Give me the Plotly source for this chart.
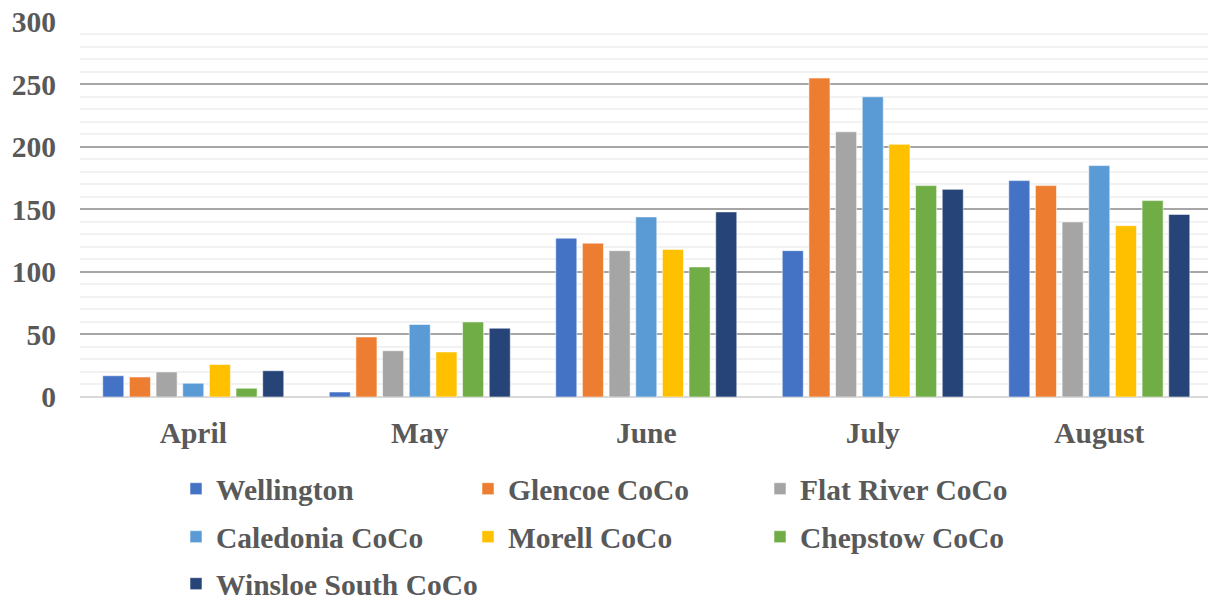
import plotly.graph_objects as go

months = ["April", "May", "June", "July", "August"]

wellington = [17, 4, 127, 117, 173]
glencoe = [16, 48, 123, 255, 169]
flat_river = [20, 37, 117, 212, 140]
caledonia = [11, 58, 144, 240, 185]
morell = [26, 36, 118, 202, 137]
chepstow = [7, 60, 104, 169, 157]
winsloe_south = [21, 55, 148, 166, 146]

series = [
    ("Wellington", wellington, "#4472C4"),
    ("Glencoe CoCo", glencoe, "#ED7D31"),
    ("Flat River CoCo", flat_river, "#A5A5A5"),
    ("Caledonia CoCo", caledonia, "#5B9BD5"),
    ("Morell CoCo", morell, "#FFC000"),
    ("Chepstow CoCo", chepstow, "#70AD47"),
    ("Winsloe South CoCo", winsloe_south, "#264478"),
]

FONT = "Liberation Serif"
TEXT = "#595959"
FS = 29.5

# three legend rows, three entries per row
legend_ids = ["legend", "legend", "legend", "legend2", "legend2", "legend2", "legend3"]

fig = go.Figure()
for (name, vals, color), lg in zip(series, legend_ids):
    fig.add_trace(go.Bar(
        x=months, y=vals, name=name, legend=lg,
        marker=dict(color=color, line=dict(color="rgba(255,255,255,0.55)", width=1)),
    ))


def legend_row(y, width=247):
    return dict(
        orientation="h", xref="container", yref="container",
        x=0.1457, xanchor="left", y=y, yanchor="top",
        entrywidth=width, entrywidthmode="pixels",
        font=dict(family=FONT, size=FS, color=TEXT, weight="bold"),
        itemwidth=30, traceorder="normal", bgcolor="rgba(0,0,0,0)",
    )


fig.update_layout(
    width=1208, height=600,
    margin=dict(l=80, r=0, t=21, b=203),
    paper_bgcolor="white", plot_bgcolor="white",
    barmode="group", bargap=0.176, bargroupgap=0.21,
    font=dict(family=FONT, size=FS, color=TEXT),
    showlegend=True,
    legend=legend_row(0.2283),
    legend2=legend_row(0.1483),
    legend3=legend_row(0.070, 400),
)

fig.update_xaxes(
    range=[-0.5, 4.48], showgrid=False, showline=False, zeroline=False,
    tickfont=dict(family=FONT, size=FS, color=TEXT, weight="bold"),
    ticks="", ticklabelstandoff=15,
)
fig.update_yaxes(
    range=[0, 300.6], tickvals=[0, 50, 100, 150, 200, 250, 300],
    showgrid=True, gridcolor="#A6A6A6", gridwidth=1.5,
    zeroline=True, zerolinecolor="#D9D9D9", zerolinewidth=1.5,
    minor=dict(dtick=10, showgrid=True, gridcolor="#F2F2F2", gridwidth=1.5),
    tickfont=dict(family=FONT, size=FS, color=TEXT, weight="bold"),
    ticks="", ticklabelstandoff=23,
)

fig.write_html("out.html")
